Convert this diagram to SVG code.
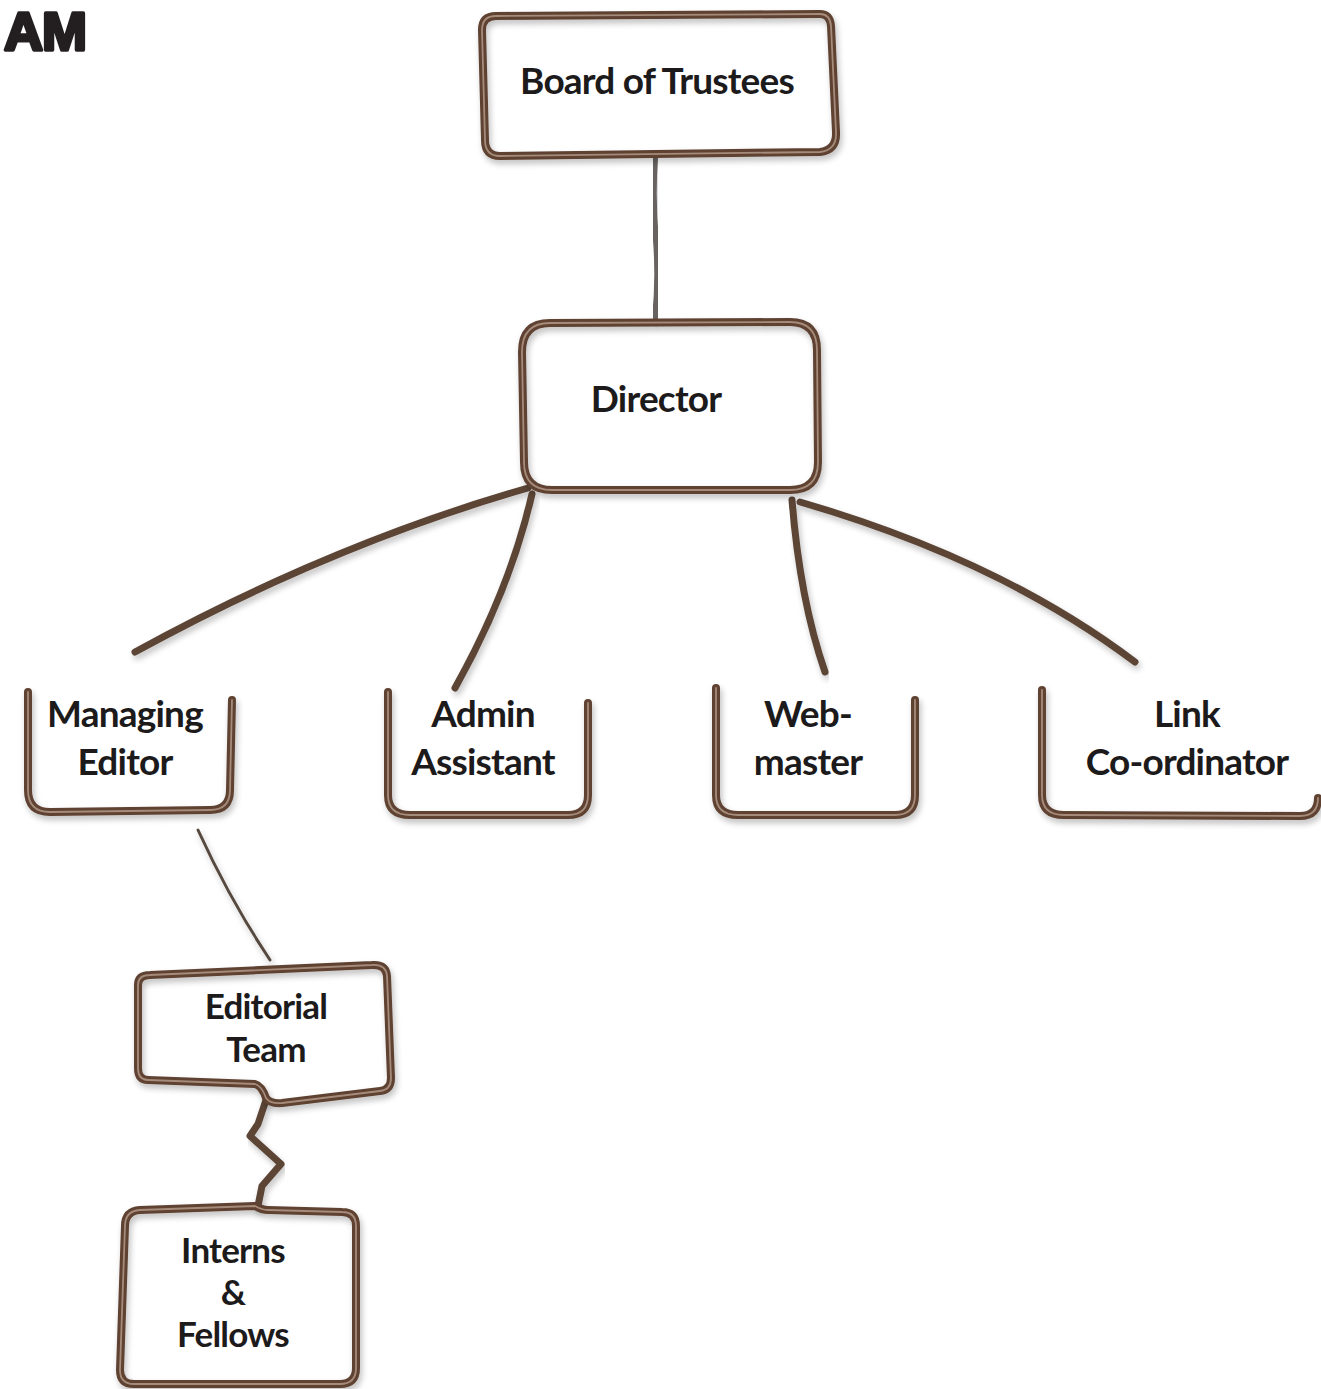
<svg xmlns="http://www.w3.org/2000/svg" xmlns:xlink="http://www.w3.org/1999/xlink" width="1321" height="1389" viewBox="0 0 1321 1389">
<style>
.bg{fill:#ffffff}
.wire{fill:none;stroke:#5f4333;stroke-width:8;stroke-linecap:round;stroke-linejoin:round;filter:url(#sh)}
.hl{fill:none;stroke:#c4ab99;stroke-width:1.8;stroke-linecap:round;stroke-linejoin:round;opacity:.7}
.link{fill:none;stroke:#5c4536;stroke-width:7;stroke-linecap:round;stroke-linejoin:round;filter:url(#sh)}
.gray{stroke:#686360;stroke-width:6}
.thin{stroke-width:3;stroke:#57493f}
.lbl{font-family:Lato,"Open Sans","Liberation Sans",sans-serif;font-size:37px;font-weight:700;fill:#1c1a1b;text-anchor:middle;letter-spacing:-0.8px}
.sm{font-size:35px}
.title{font-family:"Liberation Sans",Arial,sans-serif;font-size:54px;font-weight:700;fill:#231f20;stroke:#231f20;stroke-width:3.5;stroke-linejoin:round;letter-spacing:-1px}
</style>
<defs>
<filter id="sh" x="-10%" y="-10%" width="120%" height="130%">
<feGaussianBlur in="SourceAlpha" stdDeviation="3"/>
<feOffset dx="2" dy="4" result="b"/>
<feComponentTransfer><feFuncA type="linear" slope="0.25"/></feComponentTransfer>
<feMerge><feMergeNode/><feMergeNode in="SourceGraphic"/></feMerge>
</filter>
<path id="pBoard" d="M 496,16 L 820,14 Q 830,14 831,26 L 836,132 Q 837,150 820,152 L 500,156 Q 485,156 485,140 L 482,30 Q 482,16 496,16 Z"/>
<path id="pDir" d="M 550,323 L 790,322 Q 817,322 817,350 L 818,462 Q 818,490 790,490 L 552,490 Q 524,490 524,462 L 522,352 Q 522,323 550,323 Z"/>
<path id="pME" d="M 28,692 L 28,790 Q 28,812 50,812 L 210,810 Q 230,810 230,790 L 232,700"/>
<path id="pAA" d="M 388,692 L 388,795 Q 388,815 410,815 L 568,815 Q 588,815 588,795 L 588,703"/>
<path id="pWM" d="M 716,688 L 716,795 Q 716,815 738,815 L 895,815 Q 915,815 915,795 L 915,700"/>
<path id="pLC" d="M 1042,690 L 1042,795 Q 1042,815 1064,815 L 1300,816 Q 1318,816 1318,798"/>
<path id="pET" d="M 255,1084 L 148,1080 Q 138,1080 138,1068 L 138,985 Q 138,975 150,975 L 372,965 Q 386,964 387,976 L 391,1078 Q 391,1090 380,1091 L 282,1103 Q 270,1104 266,1098 Q 262,1086 255,1084 Z"/>
<path id="pIF" d="M 255,1206 L 140,1210 Q 125,1211 125,1226 L 120,1370 Q 120,1384 134,1384 L 340,1384 Q 356,1384 356,1368 L 356,1226 Q 356,1212 342,1212 L 268,1210 Q 262,1210 255,1206 Z"/>
</defs>
<rect class="bg" x="0" y="0" width="1321" height="1389"/>
<text class="title" x="4" y="50">AM</text>
<g id="connectors">
<path class="link gray" d="M 655,158 Q 652,200 656,240 Q 659,280 655,318"/>
<path class="link" d="M 528,488 Q 330,545 135,652"/>
<path class="link" d="M 532,494 Q 510,590 455,688"/>
<path class="link" d="M 792,500 Q 800,600 825,672"/>
<path class="link" d="M 800,502 Q 1000,560 1135,662"/>
<path class="link thin" d="M 198,830 Q 230,900 270,960"/>
<path class="link" d="M 266,1100 L 258,1124 L 250,1136 L 281,1164 L 262,1186 L 258,1206"/>
</g>
<g id="board">
<use xlink:href="#pBoard" class="wire"/><use xlink:href="#pBoard" class="hl"/>
<text class="lbl" x="657" y="94">Board of Trustees</text>
</g>
<g id="director">
<use xlink:href="#pDir" class="wire"/><use xlink:href="#pDir" class="hl"/>
<text class="lbl" x="656" y="412">Director</text>
</g>
<g id="managing-editor">
<use xlink:href="#pME" class="wire"/><use xlink:href="#pME" class="hl"/>
<text class="lbl" x="125" y="727">Managing</text>
<text class="lbl" x="125" y="775">Editor</text>
</g>
<g id="admin-assistant">
<use xlink:href="#pAA" class="wire"/><use xlink:href="#pAA" class="hl"/>
<text class="lbl" x="483" y="727">Admin</text>
<text class="lbl" x="483" y="775">Assistant</text>
</g>
<g id="webmaster">
<use xlink:href="#pWM" class="wire"/><use xlink:href="#pWM" class="hl"/>
<text class="lbl" x="808" y="727">Web-</text>
<text class="lbl" x="808" y="775">master</text>
</g>
<g id="link-coordinator">
<use xlink:href="#pLC" class="wire"/><use xlink:href="#pLC" class="hl"/>
<text class="lbl" x="1187" y="727">Link</text>
<text class="lbl" x="1187" y="775">Co-ordinator</text>
</g>
<g id="editorial-team">
<use xlink:href="#pET" class="wire"/><use xlink:href="#pET" class="hl"/>
<text class="lbl sm" x="266" y="1019">Editorial</text>
<text class="lbl sm" x="266" y="1062">Team</text>
</g>
<g id="interns-fellows">
<use xlink:href="#pIF" class="wire"/><use xlink:href="#pIF" class="hl"/>
<text class="lbl sm" x="233" y="1263">Interns</text>
<text class="lbl sm" x="233" y="1305">&amp;</text>
<text class="lbl sm" x="233" y="1347">Fellows</text>
</g>
</svg>
